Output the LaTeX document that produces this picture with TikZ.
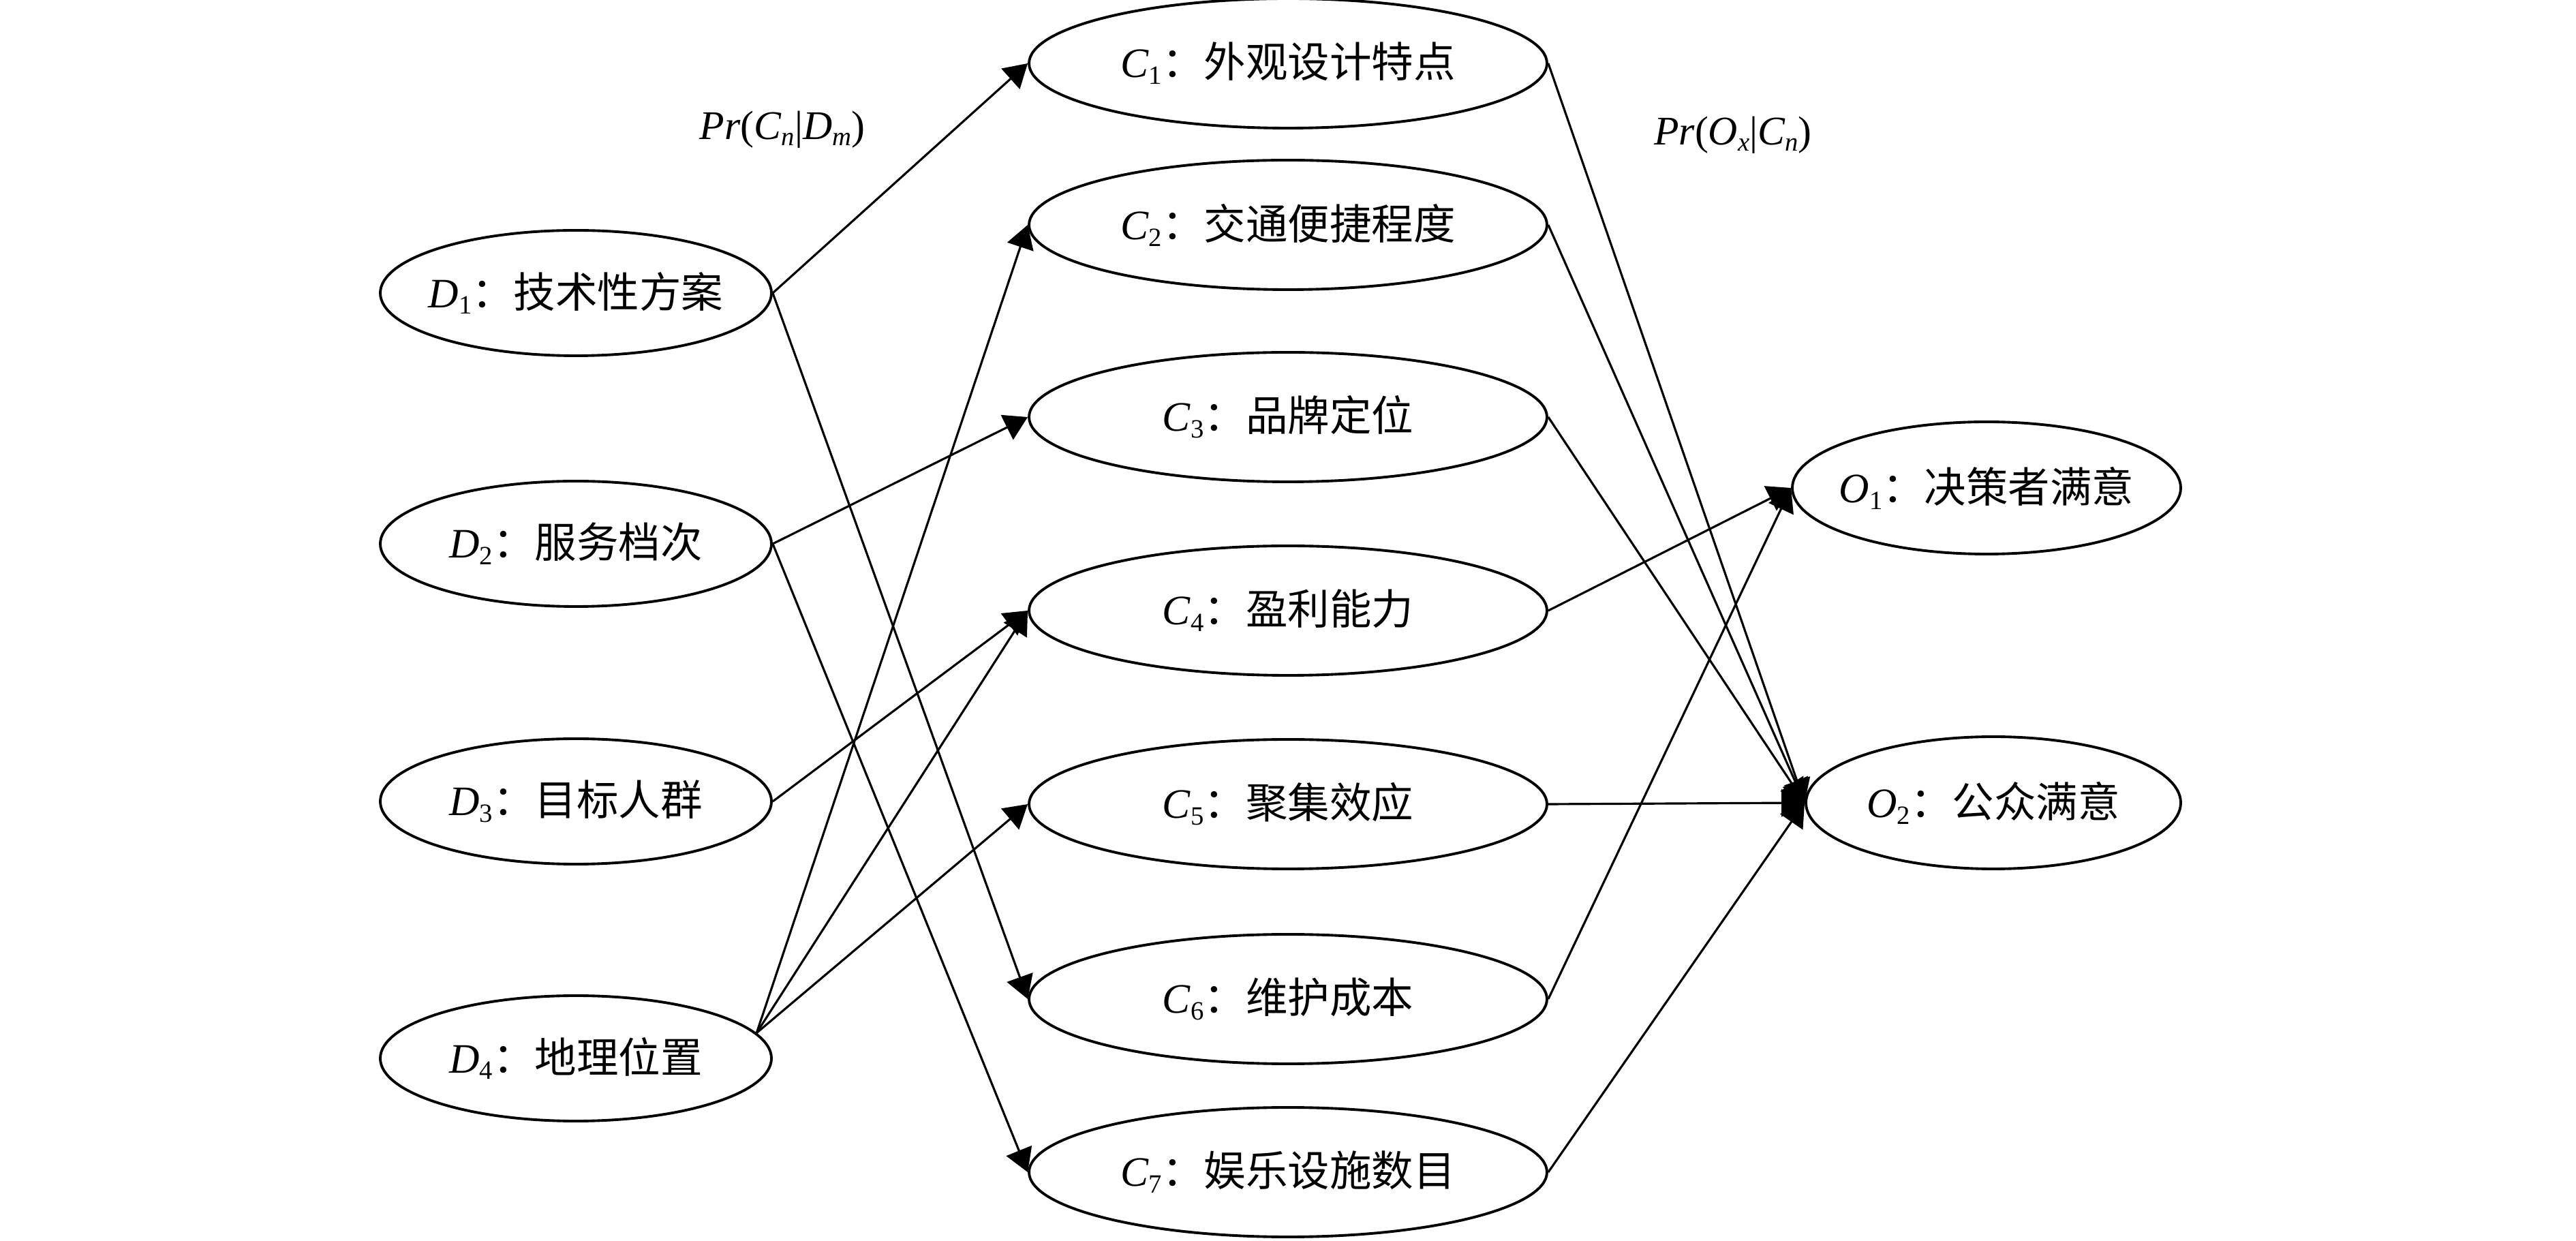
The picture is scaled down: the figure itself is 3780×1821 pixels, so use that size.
\documentclass[tikz,border=0pt]{standalone}
\usepackage{fontspec}
\setmainfont{Liberation Serif}
\newfontfamily\cjk{Noto Sans CJK SC}
\usetikzlibrary{arrows.meta,shapes.geometric}
\newcommand\subtxt[1]{\raisebox{-0.35ex}{\fontsize{11pt}{11pt}\selectfont #1}}
\newcommand\nlab[3]{\makebox[0pt]{\textit{#1}\subtxt{#2}{\cjk ：#3}}}
\begin{document}
\begin{tikzpicture}[x=0.1mm,y=-0.1mm,
  ell/.style={draw, ellipse, line width=1.1pt, inner sep=0pt,
    font=\fontsize{17.5pt}{20pt}\selectfont},
  dnode/.style={ell, minimum width=57.4mm, minimum height=18.4mm},
  cnode/.style={ell, minimum width=76mm, minimum height=19mm},
  onode/.style={ell, minimum width=57mm, minimum height=19.4mm},
  edge/.style={line width=0.9pt, -{Triangle[length=3.4mm,width=4mm]}},
  lbl/.style={font=\fontsize{17pt}{20pt}\selectfont, inner sep=0pt}]
\useasboundingbox (0,0) rectangle (3780,1821);
% D nodes
\node[dnode] (D1) at (845,430)  {\nlab{D}{1}{技术性方案}};
\node[dnode] (D2) at (845,798)  {\nlab{D}{2}{服务档次}};
\node[dnode] (D3) at (845,1176) {\nlab{D}{3}{目标人群}};
\node[dnode] (D4) at (845,1553) {\nlab{D}{4}{地理位置}};
% C nodes
\node[cnode] (C1) at (1890,93)   {\nlab{C}{1}{外观设计特点}};
\node[cnode] (C2) at (1890,330)  {\nlab{C}{2}{交通便捷程度}};
\node[cnode] (C3) at (1890,612)  {\nlab{C}{3}{品牌定位}};
\node[cnode] (C4) at (1890,896)  {\nlab{C}{4}{盈利能力}};
\node[cnode] (C5) at (1890,1180) {\nlab{C}{5}{聚集效应}};
\node[cnode] (C6) at (1890,1466) {\nlab{C}{6}{维护成本}};
\node[cnode] (C7) at (1890,1720) {\nlab{C}{7}{娱乐设施数目}};
% O nodes
\node[onode] (O1) at (2915,716)  {\nlab{O}{1}{决策者满意}};
\node[onode, minimum width=55mm] (O2) at (2925,1178) {\nlab{O}{2}{公众满意}};
% labels
\node[lbl] (L1) at (1148,190) {\textit{Pr}(\textit{C}\subtxt{\itshape n}|\textit{D}\subtxt{\itshape m})};
\node[lbl] (L2) at (2543,198) {\textit{Pr}(\textit{O}\subtxt{\itshape x}|\textit{C}\subtxt{\itshape n})};
% edges D -> C
\draw[edge] (D1.east) -- (C1.west);
\draw[edge] (D1.east) -- (C6.west);
\draw[edge] (D2.east) -- (C3.west);
\draw[edge] (D2.east) -- (C7.west);
\draw[edge] (D3.east) -- (C4.west);
\draw[edge] (D4.8) -- (C2.west);
\draw[edge] (D4.8) -- (C4.west);
\draw[edge] (D4.8) -- (C5.west);
% edges C -> O
\draw[edge] (C1.east) -- (O2.west);
\draw[edge] (C2.east) -- (O2.west);
\draw[edge] (C3.east) -- (O2.west);
\draw[edge] (C4.east) -- (O1.west);
\draw[edge] (C5.east) -- (O2.west);
\draw[edge] (C6.east) -- (O1.west);
\draw[edge] (C7.east) -- (O2.west);
\end{tikzpicture}
\end{document}
